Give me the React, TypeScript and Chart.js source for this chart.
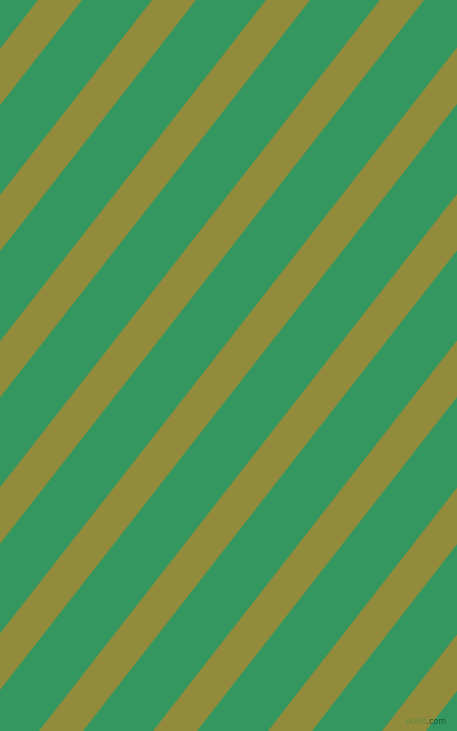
import { useEffect, useRef } from 'react';
import { Chart, type ChartConfiguration, registerables } from 'chart.js';

Chart.register(...registerables);

// x position of each stripe's centre where it meets the top edge (y = 0) and the bottom edge (y = 731)
const stripeTopX = [60, 174, 288, 402, 516, 630, 744, 858, 972, 1086];
const stripeBottomX = [-510, -396, -282, -168, -54, 61, 175, 290, 404, 518];
const edgeY = [0, 731];

const WIDTH = 457;
const HEIGHT = 731;
const GREEN = '#33975f';
const OLIVE = '#928b3c';

const backgroundPlugin = {
  id: 'stripeBackground',
  beforeDraw(chart: Chart) {
    const { ctx, width, height } = chart;
    ctx.save();
    ctx.fillStyle = GREEN;
    ctx.fillRect(0, 0, width, height);
    ctx.restore();
  },
};

function StripeChart() {
  const canvasRef = useRef<HTMLCanvasElement | null>(null);
  const chartRef = useRef<Chart<'scatter'> | null>(null);

  useEffect(() => {
    if (!canvasRef.current) return;
    const config: ChartConfiguration<'scatter'> = {
      type: 'scatter',
      data: {
        datasets: stripeTopX.map((top, i) => ({
          data: [
            { x: top, y: edgeY[0] },
            { x: stripeBottomX[i], y: edgeY[1] },
          ],
          showLine: true,
          borderColor: OLIVE,
          borderWidth: 34.7,
          borderCapStyle: 'square' as const,
          pointRadius: 0,
          pointHoverRadius: 0,
          clip: 0,
        })),
      },
      options: {
        responsive: true,
        maintainAspectRatio: false,
        animation: false,
        events: [],
        layout: { padding: 0 },
        scales: {
          x: { type: 'linear', min: 0, max: WIDTH, display: false },
          y: { type: 'linear', min: 0, max: HEIGHT, reverse: true, display: false },
        },
        plugins: {
          legend: { display: false },
          tooltip: { enabled: false },
        },
      },
      plugins: [backgroundPlugin],
    };

    if (!chartRef.current) chartRef.current = new Chart(canvasRef.current, config);

    // cleanup
    return () => {
      chartRef.current?.destroy();
      chartRef.current = null;
    };
  }, []);

  return <canvas ref={canvasRef} />;
}

export default function App() {
  return (
    <div style={{ position: 'fixed', left: 0, top: 0, width: WIDTH, height: HEIGHT, overflow: 'hidden' }}>
      <StripeChart />
      <div
        style={{
          position: 'absolute',
          right: 11,
          bottom: 5,
          fontFamily: 'DejaVu Sans, sans-serif',
          fontSize: 8,
          lineHeight: '9px',
        }}
      >
        <span style={{ color: 'rgba(60,140,70,0.6)' }}>pixlis</span>
        <span style={{ color: 'rgba(20,80,50,0.85)' }}>.com</span>
      </div>
    </div>
  );
}
